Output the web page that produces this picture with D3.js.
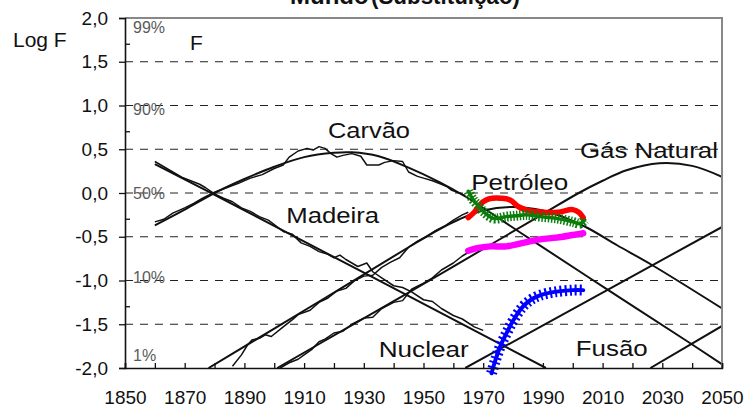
<!DOCTYPE html>
<html><head><meta charset="utf-8">
<script src="https://cdn.jsdelivr.net/npm/d3@7"></script>
<style>
body{margin:0;background:#fff}
svg{display:block}
text{font-family:"Liberation Sans",Arial,Helvetica,sans-serif}
</style></head>
<body><svg id="c" width="749" height="407"></svg>
<script>
// ---------- data (year, log F/(1-F)) ----------
const xTicks = [1850,1860,1870,1880,1890,1900,1910,1920,1930,1940,1950,1960,1970,1980,1990,2000,2010,2020,2030,2040,2050];
const xLabels = [1850,1870,1890,1910,1930,1950,1970,1990,2010,2030,2050];
const yTicks = [-2,-1.5,-1,-0.5,0,0.5,1,1.5,2];
const yMinor = [1.7,0.7,-0.3,-1.3];
const gridVals = [-1.5,-1,-0.5,0,0.5,1,1.5];
const percents = [99,90,50,10,1];

// model (smooth) curves
const woodModel = [[1860,0.33],[1880,-0.02],[1991,-2.0]];
const coalModel = [[1860,-0.37],[1870,-0.19],[1880,0],[1890,0.16],[1900,0.3],[1910,0.41],[1920,0.46],[1926,0.465],[1935,0.42],[1945,0.29],[1955,0.13],[1964,-0.04],[1985,-0.51],[2011,-1.09],[2038.6,-1.7],[2051,-1.98]];
const oilModel = [[1878,-2],[1917,-1.2],[1945,-0.62],[1955,-0.42],[1962,-0.3],[1970,-0.2],[1980,-0.16],[1990,-0.2],[1998,-0.29],[2005,-0.4],[2015,-0.6],[2026.4,-0.82],[2051,-1.34]];
const gasModel = [[1901,-2],[1925,-1.53],[1950,-1.04],[1975,-0.54],[1990,-0.24],[2002,0],[2010,0.14],[2018,0.26],[2029,0.34],[2040,0.31],[2051,0.17]];
const nuclearModel = [[1964,-2],[2051,-0.37]];
const fusionModel = [[2026,-2],[2051,-1.5]];

// historical (noisy) curves
const woodData = [[1860,0.36],[1863,0.3],[1866,0.24],[1869,0.18],[1872,0.14],[1875,0.1],[1877,0.06],[1880,-0.01],[1883,-0.06],[1886,-0.1],[1889,-0.17],[1892,-0.21],[1895,-0.27],[1898,-0.31],[1900,-0.36],[1903,-0.44],[1906,-0.47],[1909,-0.57],[1912,-0.61],[1915,-0.67],[1918,-0.7],[1920,-0.74],[1922,-0.71],[1924,-0.76],[1928,-0.84],[1931,-0.8],[1933,-0.9],[1936,-0.97],[1940,-1.06],[1943,-1.08],[1946,-1.13],[1950,-1.22],[1953,-1.24],[1956,-1.32],[1960,-1.4],[1963,-1.44],[1967,-1.53],[1970,-1.57]];
const coalData = [[1860,-0.33],[1863,-0.3],[1866,-0.23],[1870,-0.17],[1873,-0.12],[1876,-0.06],[1880,0.01],[1884,0.06],[1888,0.11],[1892,0.17],[1896,0.21],[1900,0.28],[1903,0.32],[1905,0.41],[1908,0.48],[1911,0.51],[1913,0.49],[1915,0.53],[1917,0.51],[1919,0.45],[1921,0.41],[1923,0.43],[1926,0.45],[1929,0.42],[1931,0.32],[1935,0.32],[1937,0.35],[1940,0.37],[1943,0.36],[1945,0.24],[1948,0.19],[1950,0.17],[1953,0.14],[1956,0.1],[1958,0.07],[1959.5,0.03],[1962,0.0],[1964,-0.03]];
const oilData = [[1886,-1.98],[1889,-1.85],[1891,-1.74],[1892.5,-1.68],[1895,-1.66],[1897,-1.62],[1899,-1.64],[1903,-1.53],[1906,-1.45],[1908,-1.39],[1912,-1.34],[1915,-1.25],[1918,-1.2],[1921,-1.12],[1924,-1.09],[1927,-1.0],[1930,-0.95],[1933,-0.94],[1936,-0.85],[1939,-0.79],[1942,-0.74],[1945,-0.62],[1948,-0.55],[1951,-0.5],[1954,-0.43],[1957,-0.38],[1960,-0.31],[1963,-0.25],[1965,-0.22]];
const gasData = [[1902,-2.0],[1905,-1.94],[1908,-1.9],[1910,-1.85],[1912.5,-1.79],[1915,-1.7],[1917,-1.67],[1920,-1.6],[1923,-1.58],[1926,-1.5],[1930,-1.43],[1933,-1.42],[1936,-1.32],[1940,-1.25],[1943,-1.23],[1946,-1.1],[1950,-1.03],[1953,-0.97],[1956,-0.88],[1960,-0.8],[1963,-0.72],[1965,-0.68]];

// recent observations (coloured)
const oilRecent = [[1965,-0.28],[1967,-0.22],[1969,-0.13],[1971,-0.08],[1973,-0.06],[1976,-0.06],[1979,-0.08],[1982,-0.16],[1985,-0.2],[1990,-0.22],[1995,-0.22],[2000,-0.19],[2002,-0.22],[2003.5,-0.28]];
const coalRecent = [[1965,0.02],[1966.7,-0.08],[1968.5,-0.15],[1970,-0.21],[1973.4,-0.29],[1977.8,-0.27],[1981,-0.26],[1984.5,-0.25],[1989,-0.27],[1994.6,-0.29],[2000,-0.33],[2002.4,-0.35],[2004,-0.31]];
const gasRecent = [[1965,-0.66],[1968,-0.63],[1972.3,-0.61],[1977.8,-0.61],[1983.4,-0.57],[1989,-0.53],[1994.6,-0.51],[2000,-0.48],[2003.5,-0.46]];
const nuclearRecent = [[1972.8,-2.06],[1974,-1.92],[1976,-1.73],[1978,-1.59],[1980,-1.46],[1983,-1.31],[1986,-1.22],[1989,-1.17],[1994,-1.13],[2000,-1.11],[2003.5,-1.11]];

const curveNames = ["Carvão","Madeira","Petróleo","Gás Natural","Nuclear","Fusão"];
const curveNameAnchors = [[1918,0.63],[1904,-0.34],[1966,0.04],[2002.4,0.4],[1935,-1.87],[2001,-1.86]];

// ---------- layout ----------
const svg = d3.select("#c");
const L=125, R=722, T=18, B=368;
const x = d3.scaleLinear().domain([1850,2050]).range([L,R]);
const y = d3.scaleLinear().domain([-2,2]).range([B,T]);

svg.append("defs").append("clipPath").attr("id","plot")
  .append("rect").attr("x",L).attr("y",T).attr("width",R-L).attr("height",B-T);

// grid
svg.append("g").selectAll("line").data(gridVals).join("line")
  .attr("x1",L).attr("x2",R).attr("y1",d=>y(d)).attr("y2",d=>y(d))
  .attr("stroke","#222").attr("stroke-width",1).attr("stroke-dasharray","8,7");

// percent labels
const pctOffset = {99:15, 90:5, 50:6, 10:7, 1:-7};
svg.append("g").selectAll("text").data(percents).join("text")
  .attr("x",133)
  .attr("y",d=>y(Math.max(-2,Math.min(2,Math.log10(d/(100-d)))))+pctOffset[d])
  .attr("font-size",16).attr("fill","#5a5a5a").text(d=>d+"%");

// curves
const line = d3.line().x(d=>x(d[0])).y(d=>y(d[1]));
const smooth = d3.line().x(d=>x(d[0])).y(d=>y(d[1])).curve(d3.curveCatmullRom.alpha(0.5));
const gBlack = svg.append("g").attr("clip-path","url(#plot)").attr("fill","none").attr("stroke","#111");
[woodModel,coalModel,oilModel,gasModel,nuclearModel,fusionModel].forEach(d=>{
  gBlack.append("path").attr("d",smooth(d)).attr("stroke-width",2);
});
[woodData,coalData,oilData,gasData].forEach(d=>{
  gBlack.append("path").attr("d",line(d)).attr("stroke-width",1.5).attr("stroke-linejoin","round");
});

// coloured observations
const gCol = svg.append("g").attr("fill","none").attr("stroke-linecap","round").attr("stroke-linejoin","round");
gCol.append("path").attr("d",smooth(gasRecent)).attr("stroke","#ff00ff").attr("stroke-width",6.5);
gCol.append("path").attr("d",smooth(oilRecent)).attr("stroke","#ff0000").attr("stroke-width",5.5);
gCol.append("path").attr("d",smooth(coalRecent)).attr("stroke","#0a7d0a").attr("stroke-width",3.5);
gCol.append("path").attr("d",smooth(coalRecent)).attr("stroke","#0a7d0a").attr("stroke-width",10)
  .attr("stroke-linecap","butt").attr("stroke-dasharray","1.5,1.7");
gCol.append("path").attr("d",smooth(nuclearRecent)).attr("stroke","#0000ff").attr("stroke-width",4);
gCol.append("path").attr("d",smooth(nuclearRecent)).attr("stroke","#0000ff").attr("stroke-width",11)
  .attr("stroke-linecap","butt").attr("stroke-dasharray","2,3");

// frame (top & right gray)
svg.append("path").attr("d",`M${L},${T}H${R}V${B}`).attr("fill","none").attr("stroke","#888").attr("stroke-width",2);

// axes
const xAxis = svg.append("g").attr("transform",`translate(0,${B})`)
  .call(d3.axisBottom(x).tickValues(xTicks).tickSize(-5).tickPadding(23)
    .tickFormat(d=>xLabels.includes(d)?String(d):""));
xAxis.select(".domain").attr("stroke","#111").attr("stroke-width",1.6);
xAxis.selectAll(".tick line").attr("stroke","#111").attr("stroke-width",1.3);
xAxis.selectAll("text").attr("font-size",19).attr("fill","#111").attr("font-family",null);

const yAxis = svg.append("g").attr("transform",`translate(${L},0)`)
  .call(d3.axisLeft(y).tickValues(yTicks).tickSize(6).tickPadding(11)
    .tickFormat(d=>d.toFixed(1).replace(".",",")));
yAxis.select(".domain").attr("stroke","#111").attr("stroke-width",1.6);
yAxis.selectAll(".tick line").attr("stroke","#111").attr("stroke-width",1.3);
yAxis.selectAll("text").attr("font-size",19).attr("fill","#111").attr("font-family",null);
svg.append("g").selectAll("line").data(yMinor).join("line")
  .attr("x1",L).attr("x2",L+5).attr("y1",d=>y(d)).attr("y2",d=>y(d))
  .attr("stroke","#111").attr("stroke-width",1.3);

// curve name labels
const nameWidths = [82,93,97,138,90,72];
svg.append("g").selectAll("text").data(curveNames).join("text")
  .attr("x",(d,i)=>x(curveNameAnchors[i][0]))
  .attr("y",(d,i)=>y(curveNameAnchors[i][1]))
  .attr("font-size",22).attr("fill","#111")
  .attr("textLength",(d,i)=>nameWidths[i]).attr("lengthAdjust","spacingAndGlyphs")
  .text(d=>d);

// other texts
svg.append("text").attr("x",13).attr("y",46.5).attr("font-size",21).attr("fill","#111").text("Log F");
svg.append("text").attr("x",190).attr("y",50).attr("font-size",21).attr("fill","#111").text("F");
svg.append("text").attr("x",290).attr("y",3.5).attr("font-size",24).attr("font-weight","bold").attr("fill","#111").text("Mundo");
svg.append("text").attr("x",371).attr("y",3.5).attr("font-size",24).attr("font-weight","bold").attr("fill","#111")
  .attr("textLength",149).attr("lengthAdjust","spacingAndGlyphs").text("(Substituição)");
</script></body></html>
